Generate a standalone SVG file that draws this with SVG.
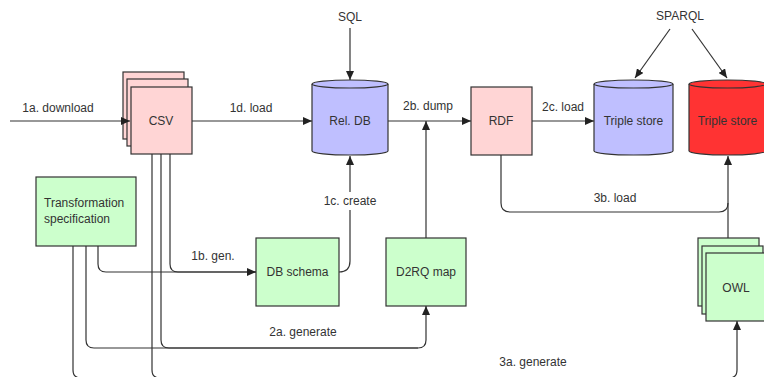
<svg xmlns="http://www.w3.org/2000/svg" width="764" height="377" viewBox="0 0 764 377">
<style>
text{font-family:"Liberation Sans",Arial,sans-serif;font-size:12px;fill:#333;}
.c{text-anchor:middle;}
.e{stroke:#333;stroke-width:1.2;fill:none;}
.pink{fill:#ffd5d5;stroke:#333;stroke-width:1.2;}
.blue{fill:#bfbfff;stroke:#333;stroke-width:1.2;}
.red{fill:#ff3333;stroke:#333;stroke-width:1.2;}
.green{fill:#ccffcc;stroke:#333;stroke-width:1.2;}
</style>
<defs>
<marker id="a" markerUnits="userSpaceOnUse" markerWidth="9" markerHeight="8" refX="9" refY="4" orient="auto">
<path d="M0,0 L9,4 L0,8 z" fill="#222"/>
</marker>
</defs>
<rect width="764" height="377" fill="#fff"/>
<g id="csv">
<rect class="pink" x="123" y="72" width="61" height="67"/>
<rect class="pink" x="127" y="79" width="61" height="67"/>
<rect class="pink" x="131" y="87" width="61" height="67"/>
<text class="c" x="161" y="125">CSV</text>
</g>
<g id="reldb">
<path class="blue" d="M312,84 A38,4 0 0 1 388,84 V151 A38,4 0 0 1 312,151 Z"/>
<path class="e" d="M312,84 A38,4 0 0 0 388,84"/>
<text class="c" x="350" y="125">Rel. DB</text>
</g>
<g id="rdf">
<rect class="pink" x="471" y="87" width="61" height="68"/>
<text class="c" x="501" y="125">RDF</text>
</g>
<g id="triplestore1">
<path class="blue" d="M594,84 A39.5,4 0 0 1 673,84 V151 A39.5,4 0 0 1 594,151 Z"/>
<path class="e" d="M594,84 A39.5,4 0 0 0 673,84"/>
<text class="c" x="633.5" y="125">Triple store</text>
</g>
<g id="triplestore2">
<path class="red" d="M689,84 A38.5,4 0 0 1 766,84 V151 A38.5,4 0 0 1 689,151 Z"/>
<path class="e" d="M689,84 A38.5,4 0 0 0 766,84"/>
<text class="c" x="727.5" y="125">Triple store</text>
</g>
<g id="transformation">
<rect class="green" x="36" y="177" width="100" height="69"/>
<text x="44" y="207">Transformation</text>
<text x="44" y="223">specification</text>
</g>
<g id="dbschema">
<rect class="green" x="256" y="238" width="83" height="68"/>
<text class="c" x="297.5" y="276">DB schema</text>
</g>
<g id="d2rq">
<rect class="green" x="386" y="238" width="80" height="68"/>
<text class="c" x="426" y="276">D2RQ map</text>
</g>
<g id="owl">
<rect class="green" x="698" y="238" width="61" height="68"/>
<rect class="green" x="702" y="246" width="61" height="68"/>
<rect class="green" x="706" y="253" width="61" height="68"/>
<text class="c" x="736" y="292">OWL</text>
</g>
<g id="connectors">
<path class="e" d="M10,121 H130" marker-end="url(#a)"/>
<path class="e" d="M192,121 H312" marker-end="url(#a)"/>
<path class="e" d="M350,28 V80" marker-end="url(#a)"/>
<path class="e" d="M388,121 H471" marker-end="url(#a)"/>
<path class="e" d="M426,238 V121" marker-end="url(#a)"/>
<path class="e" d="M532,121 H594" marker-end="url(#a)"/>
<path class="e" d="M670,29 L635,78" marker-end="url(#a)"/>
<path class="e" d="M692,29 L727,78" marker-end="url(#a)"/>
<path class="e" d="M339,272 Q350,272 350,261 V156" marker-end="url(#a)"/>
<path class="e" d="M170,154 V264 Q170,272 178,272 H256"/>
<path class="e" d="M98,246 V264 Q98,272 106,272 H256" marker-end="url(#a)"/>
<path class="e" d="M161,154 V340 Q161,348 169,348 H418"/>
<path class="e" d="M86,246 V340 Q86,348 94,348 H418 Q426,348 426,340 V306" marker-end="url(#a)"/>
<path class="e" d="M152,154 V370 Q152,378 160,378 H729"/>
<path class="e" d="M73,246 V370 Q73,378 81,378 H729 Q737,378 737,370 V321" marker-end="url(#a)"/>
<path class="e" d="M501,155 V203 Q501,212 510,212 H719 Q728,212 728,203"/>
<path class="e" d="M728,238 V156" marker-end="url(#a)"/>
<rect x="318" y="192" width="64" height="18" fill="#fff"/>
<text class="c" x="58" y="112">1a. download</text>
<text class="c" x="251" y="112">1d. load</text>
<text class="c" x="428" y="110">2b. dump</text>
<text class="c" x="563" y="111">2c. load</text>
<text class="c" x="350" y="205">1c. create</text>
<text class="c" x="213" y="260">1b. gen.</text>
<text class="c" x="303" y="336">2a. generate</text>
<text class="c" x="615" y="202">3b. load</text>
<text class="c" x="533" y="366">3a. generate</text>
<text class="c" x="350" y="21">SQL</text>
<text class="c" x="680" y="20">SPARQL</text>
</g>
</svg>
